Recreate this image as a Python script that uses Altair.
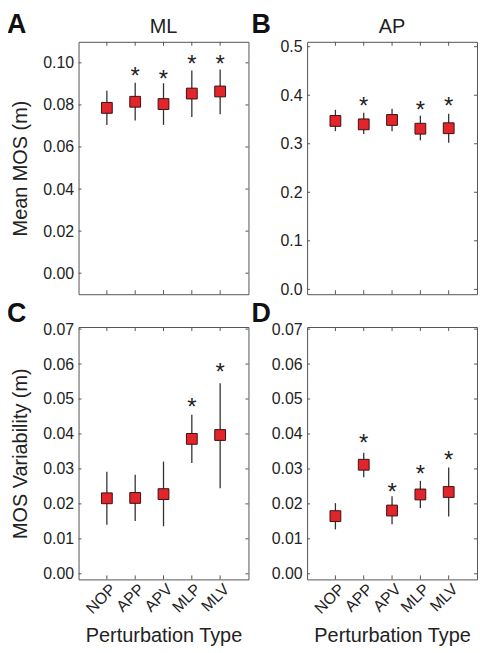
import altair as alt
import pandas as pd

cats = ["NOP", "APP", "APV", "MLP", "MLV"]

# Panel A: ML mean MOS
ml_mean = [0.0786, 0.0815, 0.0804, 0.0854, 0.0864]
ml_mean_lo = [0.0705, 0.0726, 0.0705, 0.0742, 0.0756]
ml_mean_hi = [0.0867, 0.0906, 0.0903, 0.0964, 0.0969]
ml_mean_star = [None, 0.0964, 0.0950, 0.1024, 0.1024]

# Panel B: AP mean MOS
ap_mean = [0.347, 0.340, 0.349, 0.331, 0.332]
ap_mean_lo = [0.326, 0.320, 0.326, 0.307, 0.302]
ap_mean_hi = [0.370, 0.364, 0.372, 0.358, 0.362]
ap_mean_star = [None, 0.390, None, 0.381, 0.390]

# Panel C: ML MOS variability
ml_var = [0.0216, 0.0217, 0.0228, 0.0386, 0.0397]
ml_var_lo = [0.0140, 0.0151, 0.0136, 0.0317, 0.0245]
ml_var_hi = [0.0292, 0.0283, 0.0321, 0.0455, 0.0545]
ml_var_star = [None, None, None, 0.0493, 0.0594]

# Panel D: AP MOS variability
ap_var = [0.0165, 0.0312, 0.0181, 0.0227, 0.0234]
ap_var_lo = [0.0127, 0.0276, 0.0142, 0.0188, 0.0164]
ap_var_hi = [0.0202, 0.0346, 0.0222, 0.0266, 0.0304]
ap_var_star = [None, 0.0392, 0.0252, 0.0301, 0.0342]

ticks_mean_ml = [0.0, 0.02, 0.04, 0.06, 0.08, 0.10]
ticks_mean_ap = [0.0, 0.1, 0.2, 0.3, 0.4, 0.5]
ticks_var = [0.0, 0.01, 0.02, 0.03, 0.04, 0.05, 0.06, 0.07]

FONT = "Liberation Sans"
W, H = 171, 254
FRAME = "#555555"


def panel(vals, lo, hi, star, ydom, yticks, yfmt, ytitle, title, letter, lx, ly, bottom):
    df = pd.DataFrame({"cat": cats, "v": vals, "lo": lo, "hi": hi, "star": star})
    tdf = pd.DataFrame({"t": yticks})
    cdf = pd.DataFrame({"cat": cats})
    ldf = pd.DataFrame({"L": [letter]})

    if bottom:
        xaxis = alt.Axis(title="Perturbation Type", labelAngle=315, labelAlign="right",
                         labelBaseline="middle", labelFontSize=16, titleFontSize=20,
                         ticks=False, domain=False, labelPadding=7, labelOffset=6,
                         titlePadding=9, labelColor="#222", titleColor="#222",
                         titleFontWeight="normal")
    else:
        xaxis = alt.Axis(labels=False, ticks=False, domain=False, title=None)
    xs = alt.Scale(type="point", padding=1, domain=cats)
    yaxis = alt.Axis(values=yticks, format=yfmt, title=ytitle, ticks=False, domain=False,
                     grid=False, labelFontSize=16, titleFontSize=20, labelPadding=5,
                     titlePadding=12, labelColor="#222", titleColor="#222",
                     titleFontWeight="normal")
    ys = alt.Scale(domain=ydom, nice=False, zero=False)

    X = alt.X("cat:N", scale=xs, axis=xaxis, sort=cats)

    base = alt.Chart(df)
    err = base.mark_rule(color="#333333", strokeWidth=1.3).encode(
        x=X, y=alt.Y("lo:Q", scale=ys, axis=yaxis), y2="hi:Q")
    pts = base.mark_square(size=118, fill="#E3242B", stroke="#3a1212", strokeWidth=1,
                           opacity=1).encode(x=X, y=alt.Y("v:Q", scale=ys, axis=yaxis))
    stars = base.transform_filter("isValid(datum.star)").mark_text(
        text="*", fontSize=24, dy=7, font=FONT, color="#222222").encode(
        x=X, y=alt.Y("star:Q", scale=ys, axis=yaxis))

    ytl = alt.Chart(tdf).mark_rule(color=FRAME, strokeWidth=1).encode(
        y=alt.Y("t:Q", scale=ys, axis=yaxis), x=alt.value(0), x2=alt.value(3))
    ytr = alt.Chart(tdf).mark_rule(color=FRAME, strokeWidth=1).encode(
        y=alt.Y("t:Q", scale=ys, axis=yaxis), x=alt.value(W), x2=alt.value(W - 3))
    xtb = alt.Chart(cdf).mark_rule(color=FRAME, strokeWidth=1).encode(
        x=X, y=alt.value(H), y2=alt.value(H - 4))
    xtt = alt.Chart(cdf).mark_rule(color=FRAME, strokeWidth=1).encode(
        x=X, y=alt.value(0), y2=alt.value(4))
    let = alt.Chart(ldf).mark_text(align="left", baseline="top", fontSize=27,
                                   fontWeight="bold", font=FONT, color="#111111",
                                   x=lx, y=ly).encode(text="L:N")
    layers = [err, pts, stars, ytl, ytr, xtb, xtt, let]
    if title:
        tdf2 = pd.DataFrame({"T": [title]})
        ttl = alt.Chart(tdf2).mark_text(align="center", baseline="alphabetic", fontSize=20,
                                        font=FONT, color="#222222",
                                        x=W / 2, y=-9).encode(text="T:N")
        layers.append(ttl)

    return alt.layer(*layers).properties(width=W, height=H)


pA = panel(ml_mean, ml_mean_lo, ml_mean_hi, ml_mean_star, [-0.01, 0.11], ticks_mean_ml,
           ".2f", "Mean MOS (m)", "ML", "A", -72, -30, False)
pB = panel(ap_mean, ap_mean_lo, ap_mean_hi, ap_mean_star, [-0.01, 0.51], ticks_mean_ap,
           ".1f", None, "AP", "B", -56, -30, False)
pC = panel(ml_var, ml_var_lo, ml_var_hi, ml_var_star, [-0.0016, 0.0706], ticks_var,
           ".2f", "MOS Variability (m)", None, "C", -72, -26, True)
pD = panel(ap_var, ap_var_lo, ap_var_hi, ap_var_star, [-0.0016, 0.0706], ticks_var,
           ".2f", None, None, "D", -56, -26, True)

chart = alt.concat(pA, pB, pC, pD, columns=2, spacing={"row": 33, "column": 59},
                   bounds="flush").properties(
    padding={"top": 0, "left": -2, "right": 0, "bottom": 0}).configure(
    font=FONT).configure_view(stroke=FRAME, strokeWidth=1)

chart.save("out.html", embed_options={"renderer": "svg", "actions": False})
